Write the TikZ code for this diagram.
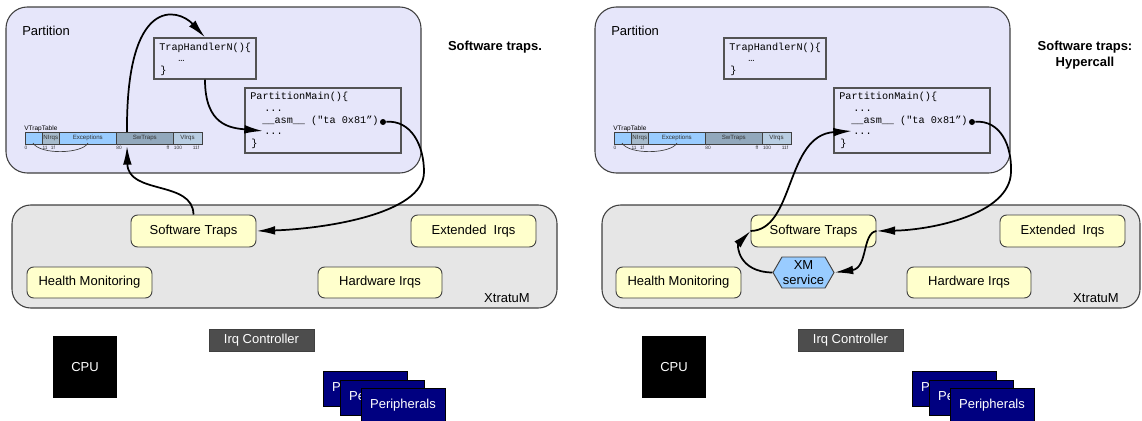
\documentclass[tikz,border=0pt]{standalone}
\usepackage{fontspec}
\setmainfont{Liberation Sans}
\newfontfamily\codefont{Liberation Mono}
\usetikzlibrary{arrows.meta,shapes.symbols}

\definecolor{partfill}{HTML}{E6E6FA}
\definecolor{xmfill}{HTML}{E6E6E6}
\definecolor{svcfill}{HTML}{FFFFCC}
\definecolor{edgegray}{HTML}{404040}
\definecolor{irqfill}{HTML}{4D4D4D}
\definecolor{perfill}{HTML}{000080}
\definecolor{vtblue}{HTML}{99CCFF}
\definecolor{vtnirq}{HTML}{A6BACB}
\definecolor{vtsw}{HTML}{92A8BC}
\definecolor{vtvirq}{HTML}{B8CDE2}
\definecolor{hexfill}{HTML}{99CCFF}

\newcommand\lblfont{\fontsize{9.75}{11.5}\selectfont}

\tikzset{
  sz/.style 2 args={minimum width=#1*0.75pt, minimum height=#2*0.75pt},
  txt/.style={font=\lblfont, inner sep=0pt},
  title/.style={font=\lblfont\bfseries, inner sep=0pt, align=center},
  partbox/.style={draw=edgegray, fill=partfill, line width=0.8pt, rounded corners=16pt, inner sep=0pt},
  xmbox/.style={draw=edgegray, fill=xmfill, line width=0.8pt, rounded corners=14pt, inner sep=0pt},
  svc/.style={draw=edgegray, fill=svcfill, line width=0.7pt, rounded corners=5pt, inner sep=0pt, font=\lblfont},
  codebox/.style={draw=edgegray!90, line width=1pt, inner sep=0pt},
  code/.style={font=\codefont\fontsize{7.65}{9}\selectfont, anchor=base west, inner sep=0pt},
  cell/.style={draw=edgegray, line width=0.5pt, inner sep=0pt, font=\fontsize{4.6}{5}\selectfont, text=black!80},
  tick/.style={font=\fontsize{3.6}{4}\selectfont, inner sep=0pt, text=black!80},
  dotmark/.style={circle, fill=black, inner sep=0pt, minimum size=4.5pt},
  hwdark/.style={fill=irqfill, draw=edgegray, line width=0.6pt, text=white, font=\lblfont, inner sep=0pt},
  hwcpu/.style={fill=black, text=white, font=\lblfont, inner sep=0pt},
  per/.style={fill=perfill, draw=black, line width=0.6pt, text=white, font=\lblfont, inner sep=0pt},
  hexa/.style={shape=signal, signal to=east and west, signal pointer angle=120,
    draw=edgegray, line width=0.7pt, fill=hexfill, inner sep=0pt, align=center,
    font=\fontsize{9.75}{11}\selectfont},
  flow/.style={-{Latex[length=14pt,width=6.5pt]}, line width=1.3pt, black}
}

% Parts that both panels have in common, in panel-local coordinates
\newcommand\sharedparts{%
  \node[partbox, sz={415}{166}] (part) at (213.5,90) {};
  \node[txt, anchor=west] (partlbl) at (22,31) {Partition};
  % main program of the partition
  \node[codebox, sz={156}{65}] (main) at (323,120.5) {};
  \node[code] (m1) at (250,99.5) {PartitionMain()\{};
  \node[code] (m2) at (264,111.5) {...};
  \node[code] (m3) at (262,123) {\_\_asm\_\_ ("ta 0x81”)};
  \node[code] (m4) at (264,134.5) {...};
  \node[code] (m5) at (251,146.5) {\}};
  \node[dotmark] (dot) at (383,122) {};
  \coordinate (ret) at (263,131);
  % virtual trap table
  \node[font=\fontsize{4.9}{5}\selectfont, anchor=base west, inner sep=0pt] (vtlbl) at (24,130.3) {VTrapTable};
  \node[cell, fill=vtblue, sz={17.5}{12}] (c0) at (33.75,138) {};
  \node[cell, fill=vtnirq, sz={16.5}{12}] (c1) at (50.75,138) {NIrqs};
  \node[cell, fill=vtblue, sz={57.5}{12}] (c2) at (87.75,138) {Exceptions};
  \node[cell, fill=vtsw, sz={56.5}{12}] (c3) at (144.75,138) {SwTraps};
  \node[cell, fill=vtvirq, sz={29}{12}] (c4) at (187.5,138) {VIrqs};
  \node[tick] (t0) at (26,148) {0};
  \node[tick] (t1) at (45,148) {11};
  \node[tick] (t2) at (53,148) {1f};
  \node[tick] (t3) at (119,148) {80};
  \node[tick] (t4) at (168,148) {ff};
  \node[tick] (t5) at (178,148) {100};
  \node[tick] (t6) at (196,148) {11f};
  \draw[edgegray, line width=0.5pt] (33,143) .. controls (40,155) and (82,154) .. (88,143);
  % hypervisor services
  \node[svc, sz={125}{31}] (hm) at (89.5,282.5) {Health Monitoring};
  \node[svc, sz={124}{31}] (hwirq) at (380,282.5) {Hardware Irqs};
  \node[svc, sz={125}{32}] (extirq) at (473.5,231) {Extended\ \ Irqs};
  % hardware
  \node[hwdark, sz={105}{22}] (irqc) at (261.5,340) {Irq Controller};
  \node[hwcpu, sz={64}{62}] (cpu) at (85,367) {CPU};
  \node[per, sz={84}{35}] (p1) at (365,388.5) {Peripherals};
  \node[per, sz={84}{35}] (p2) at (382,397.5) {Peripherals};
  \node[per, sz={84}{35}] (p3) at (403,405.5) {Peripherals};
}

\begin{document}
\begin{tikzpicture}[x=0.75pt,y=-0.75pt]
\useasboundingbox (0,0) rectangle (1142,421);

% ---------- software traps ----------
\begin{scope}[name prefix=L-]
  \node[xmbox, sz={545}{103}] (xm) at (284.5,256.5) {};
  \sharedparts
  \node[txt, anchor=east] (xmlbl) at (530,298) {XtratuM};
  \node[svc, sz={125}{32}] (swt) at (193.5,231) {Software Traps};
  \node[codebox, sz={102}{41}] (th) at (205,58.5) {};
  \node[code] (th1) at (159,50) {TrapHandlerN()\{};
  \node[code] (th2) at (178,61.5) {…};
  \node[code] (th3) at (160,73) {\}};
  \node[title] (ttl) at (495,47) {Software traps.};
  \coordinate (vtA) at (127,132);
  \coordinate (vtB) at (127,146);
  \draw[flow] (vtA) .. controls (126,-5) and (178,8) .. (th.north);
  \draw[flow] (th.south) .. controls (205,125) and (230,128) .. (ret);
  \draw[flow] (dot) .. controls (411,120) and (424,145) .. (424,172)
                    .. controls (424,215) and (320,229) .. (swt.east);
  \draw[flow] (swt.north) .. controls (193,180) and (128,195) .. (vtB);
\end{scope}

% ---------- software traps used as hypercall ----------
\begin{scope}[shift={(589,0)}, name prefix=R-]
  \node[xmbox, sz={538}{103}] (xm) at (282,256.5) {};
  \sharedparts
  \node[txt, anchor=east] (xmlbl) at (530,298) {XtratuM};
  \node[svc, sz={125}{32}] (swt) at (224.5,231) {Software Traps};
  \node[hexa, sz={61}{31}] (hex) at (214.5,272.5) {XM\\service};
  \node[codebox, sz={102}{41}] (th) at (186,58.5) {};
  \node[code] (th1) at (140,50) {TrapHandlerN()\{};
  \node[code] (th2) at (159,61.5) {…};
  \node[code] (th3) at (141,73) {\}};
  \node[title] (ttl) at (496,55) {Software traps:\\Hypercall};
  \draw[flow] (dot) .. controls (411,120) and (423,145) .. (422,172)
                    .. controls (421,215) and (341,230) .. (swt.east);
  \draw[flow] (swt.east) .. controls (273,233) and (279,268) .. (hex.east);
  \draw[flow] (hex.west) .. controls (149,272) and (148,245) .. (swt.west);
  \draw[flow] (swt.west) .. controls (206,230) and (196,135) .. (ret);
\end{scope}
\end{tikzpicture}
\end{document}
